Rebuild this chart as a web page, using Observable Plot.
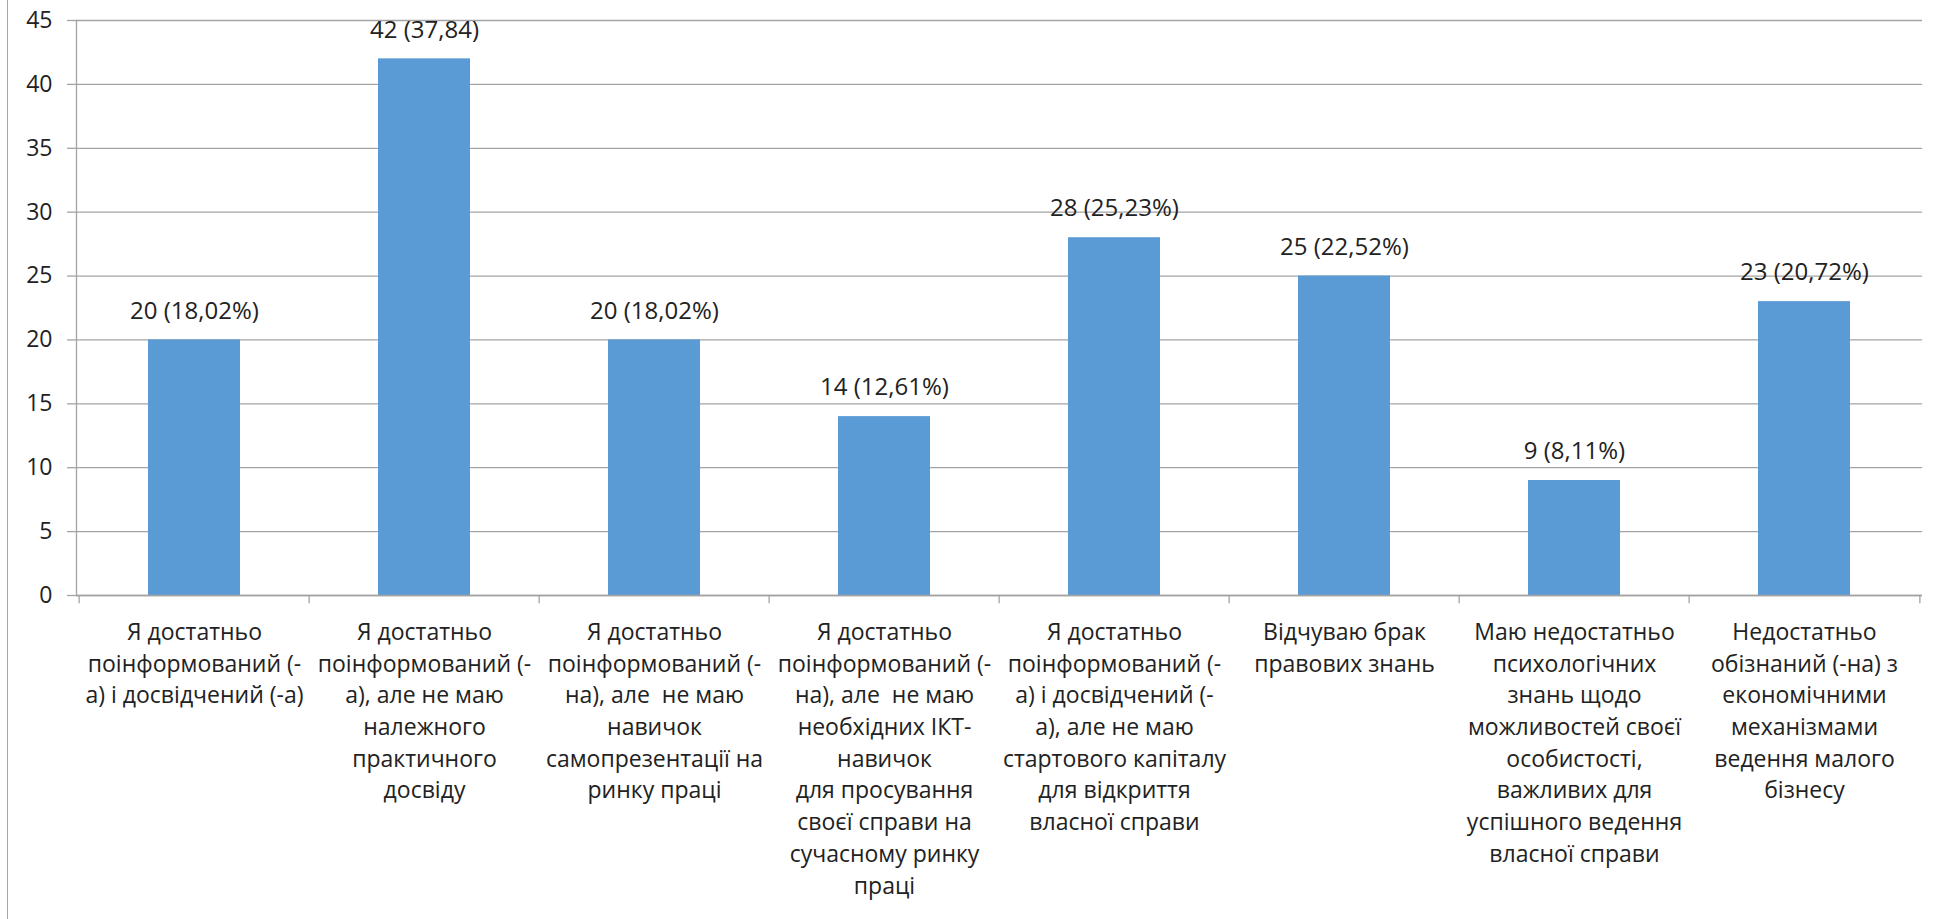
<!DOCTYPE html>
<html><head><meta charset="utf-8">
<script src="https://cdn.jsdelivr.net/npm/d3@7"></script>
<script src="https://cdn.jsdelivr.net/npm/@observablehq/plot@0.6"></script>
<style>
body{margin:0;background:#fff;}
#wrap{position:relative;width:1949px;height:919px;overflow:hidden;}
#wrap .edge{position:absolute;left:7px;top:0;bottom:0;border-left:1px solid #a6a6a6;}
#wrap svg{display:block;}
</style></head><body>
<div id="wrap"><div class="edge"></div></div>
<script>
const categories = [
  "Я достатньо\nпоінформований (-\nа) і досвідчений (-а)",
  "Я достатньо\nпоінформований (-\nа), але не маю\nналежного\nпрактичного\nдосвіду",
  "Я достатньо\nпоінформований (-\nна), але  не маю\nнавичок\nсамопрезентації на\nринку праці",
  "Я достатньо\nпоінформований (-\nна), але  не маю\nнеобхідних ІКТ-\nнавичок\nдля просування\nсвоєї справи на\nсучасному ринку\nпраці",
  "Я достатньо\nпоінформований (-\nа) і досвідчений (-\nа), але не маю\nстартового капіталу\nдля відкриття\nвласної справи",
  "Відчуваю брак\nправових знань",
  "Маю недостатньо\nпсихологічних\nзнань щодо\nможливостей своєї\nособистості,\nважливих для\nуспішного ведення\nвласної справи",
  "Недостатньо\nобізнаний (-на) з\nекономічними\nмеханізмами\nведення малого\nбізнесу"
];
const counts = [20, 42, 20, 14, 28, 25, 9, 23];
const valueLabels = ["20 (18,02%)", "42 (37,84)", "20 (18,02%)", "14 (12,61%)", "28 (25,23%)", "25 (22,52%)", "9 (8,11%)", "23 (20,72%)"];
const yTicks = [0, 5, 10, 15, 20, 25, 30, 35, 40, 45];

const data = categories.map((c, i) => ({category: c, count: counts[i], label: valueLabels[i]}));

const W = 1949, H = 919, mL = 76, mR = 27, mT = 20, mB = 324;
const half = (W - mL - mR) / categories.length / 2;
const grid = "#a3a3a3";
const ink = "#222222";

const chart = Plot.plot({
  width: W, height: H,
  marginLeft: mL, marginRight: mR, marginTop: mT, marginBottom: mB,
  style: {fontFamily: "'Open Sans', sans-serif", fontSize: "22px", color: ink, background: "#fff"},
  x: {domain: categories, paddingInner: 0.6, paddingOuter: 0.3, label: null},
  y: {domain: [0, 45], ticks: yTicks, label: null},
  marks: [
    Plot.gridY(yTicks, {stroke: grid, strokeOpacity: 1, strokeWidth: 1.3}),
    Plot.barY(data, {x: "category", y: "count", fill: "#5B9BD5"}),
    Plot.frame({anchor: "left", stroke: grid, strokeWidth: 1.3}),
    Plot.ruleY([0], {stroke: grid, strokeWidth: 1.3}),
    Plot.ruleX(categories, {x: d => d, dx: -half, y1: 0, y2: -0.65, stroke: grid, strokeWidth: 1.3}),
    Plot.ruleX(categories.slice(-1), {x: d => d, dx: half, y1: 0, y2: -0.65, stroke: grid, strokeWidth: 1.3}),
    Plot.axisY(yTicks, {tickSize: 9, tickPadding: 15, stroke: grid, strokeWidth: 1.3, fill: ink, fontSize: 23}),
    Plot.axisX({tickSize: 0, tickPadding: 22, lineHeight: 1.378, fill: ink, fontSize: 23}),
    Plot.text(data, {x: "category", y: "count", text: "label", dy: -29, fill: ink, fontSize: 24})
  ]
});
document.getElementById("wrap").appendChild(chart);
</script>
</body></html>
